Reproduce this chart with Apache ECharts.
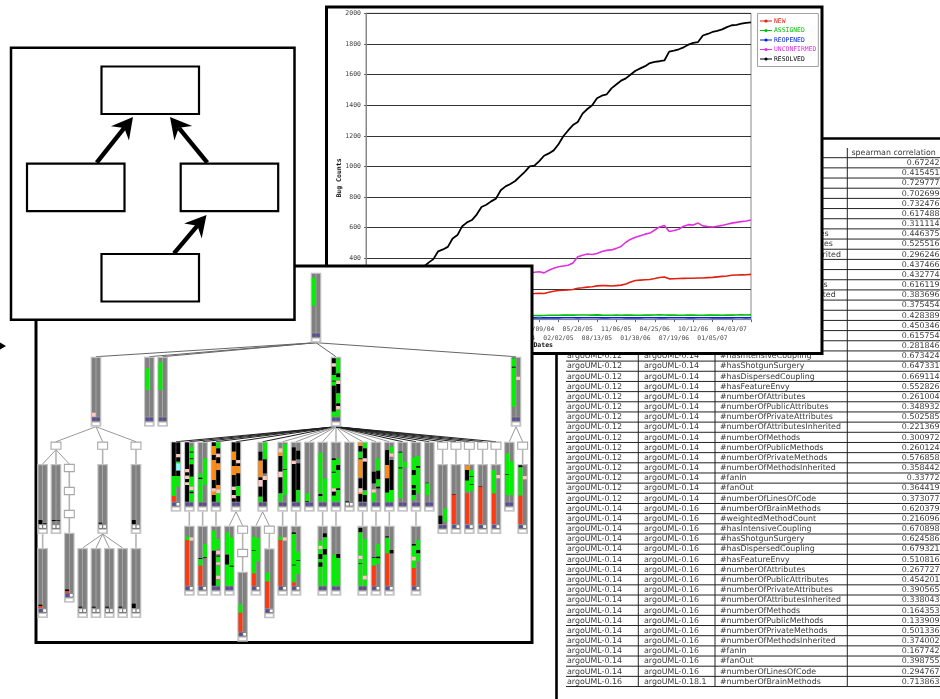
<!DOCTYPE html>
<html>
<head>
<meta charset="utf-8">
<title>collage</title>
<style>html,body{margin:0;padding:0;background:#fff}#main{width:940px;height:699px}</style>
<script src="https://cdn.jsdelivr.net/npm/echarts@6/dist/echarts.min.js"></script>
</head>
<body>
<div id="main"></div>
<script>
// 折线图数据
var seriesNames = ['NEW', 'ASSIGNED', 'REOPENED', 'UNCONFIRMED', 'RESOLVED'];
var seriesColors = ['#e02010', '#00c000', '#0020e0', '#e030e0', '#000000'];
var tickDates = ['10/06/02', '12/30/02', '03/25/03', '06/18/03', '09/11/03', '12/05/03', '02/28/04', '05/24/04', '08/16/04', '11/09/04',
	'02/02/05', '05/20/05', '08/13/05', '11/06/05', '01/30/06', '04/25/06', '07/19/06', '10/12/06', '01/05/07', '04/03/07'];
var yTicks = [0, 200, 400, 600, 800, 1000, 1200, 1400, 1600, 1800, 2000];
var newBugs = [5, 8, 10, 14, 18, 22, 26, 30, 34, 38, 42, 47, 52, 57, 62, 67, 72, 78, 84, 90, 96, 102, 108, 114, 120, 125, 130, 135, 140, 146, 150, 155, 160, 164, 168,
	170, 172, 170, 178, 185, 190, 192, 194, 197, 205, 208, 212, 215, 220, 222, 222, 219, 222, 225, 232, 245, 255, 258, 260, 262,
	268, 275, 278, 266, 267, 268, 269, 270, 270, 272, 272, 274, 276, 279, 282, 285, 290, 291, 292, 293, 295];
var assigned = [2, 3, 4, 4, 5, 6, 6, 7, 8, 8, 9, 10, 11, 12, 12, 13, 14, 15, 16, 16, 17, 18, 18, 19, 20, 21, 22, 22, 23, 24, 25, 25, 26, 26, 27,
	27, 26, 27, 28, 28, 28, 29, 29, 29, 30, 30, 30, 29, 31, 29, 28, 28, 29, 28, 29, 29, 28, 28, 29, 29, 30, 31, 30, 29, 29, 28, 28, 29, 29, 28, 28, 29, 30, 29, 28, 29, 29, 30, 31, 30, 31];
var reopened = [1, 1, 2, 2, 2, 3, 3, 3, 4, 4, 4, 5, 5, 5, 6, 6, 6, 6, 7, 7, 7, 7, 8, 8, 8, 8, 9, 9, 9, 9, 10, 10, 10, 10, 10,
	11, 10, 11, 11, 12, 11, 12, 12, 12, 11, 12, 12, 12, 12, 11, 11, 12, 12, 12, 11, 12, 11, 11, 12, 12, 12, 11, 11, 12, 12, 12, 12, 11, 11, 12, 12, 12, 11, 11, 12, 11, 11, 12, 12, 11, 12];
var unconfirmed = [10, 15, 20, 28, 35, 45, 52, 60, 70, 78, 88, 96, 105, 115, 125, 135, 145, 152, 162, 172, 180, 190, 198, 205, 215, 225, 235, 245, 255, 265, 275, 282, 290, 298, 304,
	309, 312, 305, 322, 335, 345, 350, 355, 370, 410, 420, 428, 425, 432, 445, 452, 455, 465, 478, 505, 525, 538, 548, 558, 565,
	585, 605, 615, 575, 582, 590, 610, 620, 618, 630, 612, 608, 605, 610, 615, 622, 630, 635, 640, 644, 650];
var resolved = [40, 50, 62, 75, 90, 105, 120, 140, 170, 195, 245, 295, 345, 372, 395, 446, 458, 475, 530, 552,
	610, 635, 650, 686, 735, 750, 772, 790, 845, 870, 885, 905, 935, 965, 1000, 1005, 1035, 1070, 1085, 1105,
	1145, 1197, 1235, 1270, 1290, 1345, 1375, 1400, 1445, 1462, 1470, 1510, 1535, 1560, 1575, 1600, 1625, 1640, 1655, 1675,
	1683, 1687, 1692, 1750, 1757, 1765, 1778, 1795, 1807, 1812, 1855, 1865, 1878, 1885, 1895, 1910, 1922, 1925, 1932, 1938, 1941];

// 表格数据
var tableMetrics = ['#numberOfBrainMethods', '#weightedMethodCount', '#hasIntensiveCoupling', '#hasShotgunSurgery', '#hasDispersedCoupling', '#hasFeatureEnvy',
	'#numberOfAttributes', '#numberOfPublicAttributes', '#numberOfPrivateAttributes', '#numberOfAttributesInherited', '#numberOfMethods', '#numberOfPublicMethods',
	'#numberOfPrivateMethods', '#numberOfMethodsInherited', '#fanIn', '#fanOut', '#numberOfLinesOfCode'];
var tableFrom = ['argoUML-0.10.1', 'argoUML-0.12', 'argoUML-0.14', 'argoUML-0.16'];
var tableTo = ['argoUML-0.12', 'argoUML-0.14', 'argoUML-0.16', 'argoUML-0.18.1'];
var tableValues = ['0.67242', '0.415451', '0.729777', '0.702699', '0.732476', '0.617488', '0.311114', '0.446375', '0.525516', '0.296246', '0.437466', '0.432774', '0.616119', '0.383696', '0.375454', '0.428389', '0.450346',
	'0.615754', '0.281846', '0.673424', '0.647331', '0.669114', '0.552826', '0.261004', '0.348932', '0.502585', '0.221369', '0.300972', '0.260124', '0.576858', '0.358442', '0.33772', '0.364419', '0.373077',
	'0.620379', '0.216096', '0.670898', '0.624586', '0.679321', '0.510816', '0.267727', '0.454201', '0.390565', '0.338043', '0.164353', '0.133909', '0.501336', '0.374002', '0.167742', '0.398755', '0.294767',
	'0.713863'];

// 树图: [编号, 父节点, 类型, 列, 层, 左列色块, 右列色块]  色块 = 颜色+起止行 (0-210)
var treeNodes = [
	['root', '', 'bar', 41, 't0', 'g15-99', ''],
	['a', 'root', 'bar', 8, 't1', 'p168-180', ''],
	['b', 'root', 'bar', 16, 't1', 'g35-100', ''],
	['c', 'root', 'bar', 18, 't1', 'g16-100', ''],
	['d', 'root', 'bar', 44, 't1', 'k5-20 p20-30 k30-55 g55-72 k72-75 g75-87 k87-165 g165-180', 'g5-50 k50-62 g62-72 p72-82 k82-110 g110-140 k140-148 p148-158 g160-180'],
	['e', 'root', 'bar', 71, 't1', 'k3-5 g5-150 k30-33', 'p60-70'],
	// 左侧分支
	['a1', 'a', 'box', 2, 't2', '', ''],
	['a2', 'a', 'box', 9, 't2', '', ''],
	['a3', 'a', 'box', 14, 't2', '', ''],
	['a1a', 'a1', 'bar', 0, 'u1', 'k168-180', 'k178-180'],
	['a1b', 'a1', 'bar', 2, 'u1', 'k168-171', 'k168-170'],
	['a1c', 'a1', 'box', 4, 'u1', '', ''],
	['a1d', 'a1c', 'box', 4, 'u2', '', ''],
	['a1e', 'a1d', 'box', 4, 'u3', '', ''],
	['a1f', 'a1e', 'bar', 4, 'u4', 'k170-175 r175-180', ''],
	['a2a', 'a2', 'bar', 9, 'u1', 'k176-179', ''],
	['a3a', 'a3', 'bar', 14, 'u1', 'k168-180', ''],
	['x1', 'a1a', 'bar', 0, 'u5', 'k170-174 r174-180', ''],
	['x2', 'a2a', 'bar', 6, 'u5', 'k176-179', ''],
	['x3', 'a2a', 'bar', 8, 'u5', 'k176-179', ''],
	['x4', 'a2a', 'bar', 10, 'u5', 'k176-179', ''],
	['x5', 'a2a', 'bar', 12, 'u5', 'k176-179', ''],
	['x6', 'a3a', 'bar', 14, 'u5', 'k167-180', ''],
	// 中间扇形
	['d20', 'd', 'bar', 20, 't2', 'k2-103 g103-163 r163-180', 'k2-37 p37-47 k47-60 g60-65 c65-87 k87-103 g103-135'],
	['d22', 'd', 'bar', 22, 't2', 'k2-82 p82-92 k92-102 p102-112 k112-122 p122-130 k130-180', 'g15-30 k30-33 g33-50 k50-53 g53-68 k68-105 g105-135 p135-145 g145-150 k150-155 g155-180'],
	['d24', 'd', 'bar', 24, 't2', 'g95-180 k108-112', 'g50-130'],
	['d26', 'd', 'bar', 26, 't2', 'k2-13 o13-40 k40-55 o55-115 k115-140 p140-150 o150-160 k160-180', 'g2-20 k20-35 p37-47 k47-65 o65-85 k85-130 o130-143 p143-155 g155-180'],
	['d29', 'd', 'bar', 29, 't2', 'k2-30 o30-55 k55-73 o73-100 k100-135 p135-145 k145-160 p160-170 k170-180', 'k2-55 p55-65 k65-73 o73-95 k95-133 g133-163 k163-180'],
	['d33', 'd', 'bar', 33, 't2', 'k30-57 o57-107 k107-115 p115-135 k135-165 g165-180', 'g2-53 k53-95 p103-115 k115-180'],
	['d36', 'd', 'bar', 36, 't2', 'p20-33 o33-43 k43-90 p90-107 k107-155 g155-180', 'g7-83 k83-85 g85-160'],
	['d38', 'd', 'bar', 38, 't2', 'k17-57 p57-67 k67-180', 'k27-53 k65-145 g145-180'],
	['d40', 'd', 'bar', 40, 't2', 'g155-178 k178-180', ''],
	['d42', 'd', 'bar', 42, 't2', 'g33-155 k157-163 g163-180', 'g110-180'],
	['d44', 'd', 'bar', 44, 't2', 'k50-55 g55-140 k90-93 p140-150 k150-162 g162-180', 'g50-70 k70-85 g85-140 k140-145 g145-180'],
	['d46', 'd', 'bar', 46, 't2', 'k178-180', ''],
	['d48', 'd', 'bar', 48, 't2', 'o3-13 k13-30 g30-50 k50-53 o53-107 k110-140 p140-153 o153-157 k157-180', 'g3-20 k20-50 p50-60 k60-145 g148-160 k160-180'],
	['d50', 'd', 'bar', 50, 't2', 'k90-125 p143-153 g153-180', 'g50-87 k87-113 g113-135 k135-140'],
	['d52', 'd', 'bar', 52, 't2', 'k25-70 o70-110 k110-153 g153-180', 'g15-33 p35-45 k55-145 g145-180'],
	['d54', 'd', 'bar', 54, 't2', 'k30-33 g33-170 k77-80', 'g60-77'],
	['d56', 'd', 'bar', 56, 't2', 'g47-175 k85-100 k130-140 k145-160', 'g43-155 k73-78'],
	['d58', 'd', 'bar', 58, 't2', 'k123-125 g125-160', ''],
	['d60', 'd', 'box', 60, 't2', '', ''],
	['d62', 'd', 'box', 62, 't2', '', ''],
	['d64', 'd', 'box', 64, 't2', '', ''],
	['d66', 'd', 'box', 66, 't2', '', ''],
	['d68', 'd', 'box', 68, 't2', '', ''],
	['e70', 'e', 'bar', 70, 't2', 'g35-160 k97-99', 'g60-160'],
	['e72', 'e', 'box', 72, 't2', '', ''],
	['f60', 'd60', 'bar', 60, 'u1', 'k155-180', 'g133-173'],
	['f62', 'd62', 'bar', 62, 'u1', 'k90-92 r92-180', ''],
	['f64', 'd64', 'bar', 64, 'u1', 'o5-18 k18-50 g50-83 r88-180', 'g18-81 k36-38 k60-62'],
	['f66', 'd66', 'bar', 66, 'u1', 'k66-68 r68-180', ''],
	['f68', 'd68', 'bar', 68, 'u1', 'g18-88 r88-180', 'p33-43'],
	['f72', 'e72', 'bar', 72, 'u1', 'k4-10 g10-95 r95-180', 'p36-46'],
	// 第四层
	['h22', 'd22', 'bar', 22, 't3', 'g33-43 r43-180', 'p35-45'],
	['h24', 'd24', 'bar', 24, 't3', 'k97-100 g100-120 r120-180', 'g55-95 k95-97'],
	['h26', 'd26', 'bar', 26, 't3', 'g15-75 k75-180', 'g40-70 p75-85 k90-93 g93-110 p110-117 g120-150 p150-160 g163-180'],
	['h28', 'd29', 'bar', 28, 't3', 'g20-85 k87-117 g117-180', 'g35-180 k120-123'],
	['h30', 'd29', 'box', 30, 't3', '', ''],
	['h30a', 'h30', 'box', 30, 'v1', '', ''],
	['h30b', 'h30a', 'bar', 30, 'v2', 'g98-123 r123-180', ''],
	['h32', 'd33', 'bar', 32, 't3', 'g33-143 k73-75 r143-180', 'g37-107'],
	['h34', 'd33', 'box', 34, 't3', '', ''],
	['h34a', 'h34', 'bar', 34, 'v3', 'g73-100 r100-180', ''],
	['h36', 'd36', 'bar', 36, 't3', 'g33-43 r43-180', 'p35-45'],
	['h38', 'd38', 'bar', 38, 't3', 'k20-25 g25-170 k117-119 r170-180', 'g77-145 k103-105'],
	['h42', 'd42', 'bar', 42, 't3', 'g45-180 p60-70 k85-100 k110-123', 'k23-35 g35-70 k70-87 g87-180'],
	['h44', 'd44', 'bar', 44, 't3', 'g87-180', 'k85-97 g97-180'],
	['h48', 'd48', 'bar', 48, 't3', 'k7-20 g20-90 p90-100 g100-180 k113-115', 'g40-150 p150-162 g162-180'],
	['h50', 'd50', 'bar', 50, 't3', 'k95-97 g97-120 r120-180', 'g55-93 k93-98 g98-115'],
	['h52', 'd52', 'bar', 52, 't3', 'k32-35 g37-83 r83-180', 'k73-83'],
	['h56', 'd56', 'bar', 56, 't3', 'k55-60 g60-93 p93-105 g105-127 r127-180', 'g43-73 k73-83 g83-107']
];
var treeLevels = { t0: 272.7, t1: 356.7, t2: 441.7, u1: 464, u2: 487, u3: 510, u4: 532.7, u5: 548, t3: 525.7, v1: 549, v2: 571.7, v3: 548.3 };
var segColors = { g: '#00f000', k: '#000000', p: '#ffc8c0', o: '#ff8c10', r: '#ff3810', c: '#80ffff' };

// 组装
var categories = [];
tickDates.forEach(function (d) {
	categories.push(d, d + ' +1', d + ' +2', d + ' +3');
});
categories.push('end');
var seriesData = [newBugs, assigned, reopened, unconfirmed, resolved];
var seriesWidth = [1.6, 1.6, 1.6, 1.6, 1.8];

function text(x, y, str, opt) {
	opt = opt || {};
	return {
		type: 'text', x: x, y: y, z: opt.z === undefined ? -8 : opt.z, rotation: opt.rotation || 0, silent: true,
		style: {
			text: str, fill: opt.fill || '#3a3a3a', fontSize: opt.size || 7.9, fontFamily: opt.family || '"DejaVu Sans"',
			fontWeight: opt.weight || 'normal', align: opt.align || 'left', verticalAlign: 'middle'
		}
	};
}
function rect(x, y, w, h, z, lw, fill, stroke) {
	return { type: 'rect', z: z, silent: true, shape: { x: x, y: y, width: w, height: h }, style: { fill: fill || '#fff', stroke: stroke || '#000', lineWidth: lw } };
}
function hline(x1, y1, x2, y2, z, lw, stroke) {
	return { type: 'line', z: z, silent: true, shape: { x1: x1, y1: y1, x2: x2, y2: y2 }, style: { stroke: stroke || '#000', lineWidth: lw } };
}
function arrow(x1, y1, x2, y2) {
	// 粗箭头,带凹口
	var a = Math.atan2(y2 - y1, x2 - x1), z = 35;
	function p(back, side) {
		return [x2 - back * Math.cos(a) - side * Math.sin(a), y2 - back * Math.sin(a) + side * Math.cos(a)];
	}
	return [
		hline(x1, y1, p(14, 0)[0], p(14, 0)[1], z, 4.4),
		{ type: 'polygon', z: z, silent: true, shape: { points: [[x2, y2], p(21, 11.5), p(14, 0), p(21, -11.5)] }, style: { fill: '#000' } }
	];
}

var graphics = [];
// 表格
var tableTop = 157.7, rowH = 10.17;
graphics.push(rect(556.5, 138.5, 500, 600, -10, 2.6));
graphics.push(text(851.5, 153, 'spearman correlation'));
[638.3, 715, 847.3].forEach(function (x) {
	graphics.push(hline(x, 148, x, tableTop + 52 * rowH, -9, 1, '#222'));
});
tableValues.forEach(function (v, i) {
	var group = i < 17 ? 0 : i < 34 ? 1 : i < 51 ? 2 : 3;
	var cy = tableTop + i * rowH + rowH / 2 + 0.2;
	graphics.push(hline(566, tableTop + i * rowH, 940, tableTop + i * rowH, -9, 1, '#222'));
	graphics.push(text(567, cy, tableFrom[group]));
	graphics.push(text(644, cy, tableTo[group]));
	graphics.push(text(720, cy, tableMetrics[i % 17]));
	graphics.push(text(939.5, cy, v, { align: 'right' }));
});
graphics.push(hline(566, tableTop + 52 * rowH, 940, tableTop + 52 * rowH, -9, 1, '#222'));
// 图表外框
graphics.push(rect(326.5, 7, 495.5, 346.5, -5, 3));
graphics.push(text(339.5, 178, 'Bug Counts', { z: 1, rotation: Math.PI / 2, size: 6.5, weight: 'bold', family: '"DejaVu Sans Mono"', fill: '#111', align: 'center' }));
graphics.push(text(553, 345.5, 'Dates', { z: 1, size: 6.5, weight: 'bold', family: '"DejaVu Sans Mono"', fill: '#111', align: 'right' }));
// 树图外框
graphics.push(rect(36, 266, 496, 376.5, 10, 3));
// 左上框图
graphics.push(rect(11, 47.7, 283.5, 272, 30, 2.5));
[[101.5, 66.5], [27, 163.7], [180.7, 163.7], [101.5, 254]].forEach(function (b) {
	graphics.push(rect(b[0], b[1], 97.5, 47.5, 31, 2.2));
});
graphics = graphics.concat(arrow(96.7, 162.7, 133, 117), arrow(207.3, 162.7, 170, 117), arrow(174, 253.3, 206.5, 215));
// 左边小箭头
graphics.push({ type: 'polygon', z: 30, silent: true, shape: { points: [[0, 342.5], [6, 346], [0, 349.5]] }, style: { fill: '#000' } });

function parseSegs(str) {
	if (!str) return [];
	return str.split(' ').map(function (s) {
		var r = s.slice(1).split('-');
		return { color: segColors[s[0]], from: +r[0], to: +r[1] };
	});
}
var nodeById = {};
treeNodes.forEach(function (n) { nodeById[n[0]] = n; });

var BAR_W = 10.7, BAR_H = 70, BOX_H = 8;

function renderEdge(params, api) {
	var n = treeNodes[params.dataIndex], par = nodeById[n[1]];
	if (!par) return null;
	var from = api.coord([par[3], treeLevels[par[4]]]);
	var to = api.coord([n[3], treeLevels[n[4]]]);
	var h = par[2] == 'bar' ? BAR_H : BOX_H;
	var same = par[3] == n[3];
	var far = n[1] == 'd' && Math.abs(par[3] - n[3]) > 8;
	return {
		type: 'line',
		shape: { x1: from[0] + BAR_W / 2, y1: from[1] + h, x2: to[0] + BAR_W / 2, y2: to[1] },
		style: { stroke: same ? '#b4b4b4' : far ? '#222' : (n[1] == 'root' ? '#666' : '#999'), lineWidth: same ? 1.6 : far ? 1.1 : 1 }
	};
}

function renderNode(params, api) {
	var n = treeNodes[params.dataIndex];
	var c = api.coord([n[3], treeLevels[n[4]]]);
	var x = c[0], y = c[1], kids = [];
	if (n[2] == 'box') {
		return { type: 'rect', shape: { x: x + 0.4, y: y + 0.4, width: BAR_W - 0.8, height: BOX_H - 0.8 }, style: { fill: '#fff', stroke: '#a8a8a8', lineWidth: 1.1 } };
	}
	var bx = { x: x, y: y, width: BAR_W, height: BAR_H };
	kids.push({ type: 'rect', shape: bx, style: { fill: '#c4c4c4' } });
	var colX = [x + 1.2, x + 5.6], colW = 3.9;
	colX.forEach(function (cx) {
		kids.push({ type: 'rect', shape: { x: cx, y: y + 1.2, width: colW, height: 59 }, style: { fill: '#808080' } });
	});
	[n[5], n[6]].forEach(function (str, k) {
		parseSegs(str).forEach(function (s) {
			kids.push({ type: 'rect', shape: { x: colX[k], y: y + s.from / 3, width: colW, height: (s.to - s.from) / 3 }, style: { fill: s.color } });
		});
	});
	// 底部小图标
	var all = n[5] + n[6], hasRed = all.indexOf('r') >= 0, icon = all.replace(/[k\d\-\s]/g, '') ? '#5848a8' : '#fff';
	kids.push({ type: 'rect', shape: { x: x + 1.2, y: y + 60.4, width: BAR_W - 2.4, height: 4.4 }, style: { fill: '#707070' } });
	kids.push({ type: 'rect', shape: { x: x + 1.9, y: y + 61.2, width: 2.9, height: 2.7 }, style: { fill: icon } });
	kids.push({ type: 'rect', shape: { x: x + 5.9, y: y + 61.2, width: 2.9, height: 2.7 }, style: { fill: hasRed ? '#fff' : icon } });
	kids.push({ type: 'rect', shape: { x: x + 2, y: y + 66, width: BAR_W - 4, height: 2.4 }, style: { fill: '#fff' } });
	return { type: 'group', children: kids };
}

var series = seriesNames.map(function (name, i) {
	return {
		name: name, type: 'line', xAxisIndex: 0, yAxisIndex: 0, data: seriesData[i], symbol: 'none', z: 3,
		lineStyle: { color: seriesColors[i], width: seriesWidth[i] }, itemStyle: { color: seriesColors[i] }
	};
});
var treeData = treeNodes.map(function (n) { return [n[3], treeLevels[n[4]]]; });
series.push({ type: 'custom', xAxisIndex: 1, yAxisIndex: 1, z: 20, clip: false, silent: true, data: treeData, renderItem: renderEdge });
series.push({ type: 'custom', xAxisIndex: 1, yAxisIndex: 1, z: 21, clip: false, silent: true, data: treeData, renderItem: renderNode });

var option = {
	animation: false,
	backgroundColor: '#fff',
	graphic: { elements: graphics },
	legend: {
		orient: 'vertical', left: 757.5, top: 13.5, padding: [4.5, 2, 4.5, 2], itemWidth: 12, itemHeight: 4, itemGap: 3.5,
		backgroundColor: '#fff', borderColor: '#a0a0a0', borderWidth: 1, lineStyle: { width: 1 },
		data: seriesNames.map(function (name, i) {
			return { name: name, textStyle: { color: seriesColors[i], fontSize: 6.4, fontFamily: '"DejaVu Sans Mono"', padding: [0, 0, 0, -3] } };
		})
	},
	grid: [
		{ left: 366, top: 13.3, width: 385, height: 306.3, show: true, borderColor: '#888', borderWidth: 1, backgroundColor: 'transparent' },
		{ left: 37.3, top: 0, width: 500, height: 699, show: false }
	],
	xAxis: [{
		type: 'category', gridIndex: 0, data: categories, boundaryGap: false,
		axisLine: { lineStyle: { color: '#888' } },
		axisTick: { length: 2.5, lineStyle: { color: '#666' }, interval: function (i) { return i % 4 == 0; } },
		axisLabel: {
			interval: function (i) { return i % 4 == 0; },
			formatter: function (v, i) {
				// 最后一个刻度不写字, 日期分两行交错
				if (v == 'end') return '';
				return (i / 4) % 2 == 1 ? v : '\n' + v;
			},
			fontSize: 6.3, lineHeight: 9.6, margin: 4.5, color: '#444', fontFamily: '"DejaVu Sans Mono"'
		},
		splitLine: { show: false }
	}, {
		type: 'value', gridIndex: 1, min: 0, max: 75, show: false
	}],
	yAxis: [{
		type: 'value', gridIndex: 0, min: 0, max: 2000, interval: 200,
		axisLine: { show: true, lineStyle: { color: '#888' } },
		axisTick: { show: true, length: 2, lineStyle: { color: '#666' } },
		axisLabel: {
			formatter: function (v) { return yTicks.indexOf(v) >= 0 ? v : ''; },
			fontSize: 6.5, margin: 5, color: '#444', fontFamily: '"DejaVu Sans Mono"'
		},
		splitLine: { show: true, lineStyle: { color: '#333', width: 1 } }
	}, {
		type: 'value', gridIndex: 1, min: 0, max: 699, inverse: true, show: false
	}],
	series: series
};
var myChart = echarts.init(document.getElementById('main'));
myChart.setOption(option);
</script>
</body>
</html>
